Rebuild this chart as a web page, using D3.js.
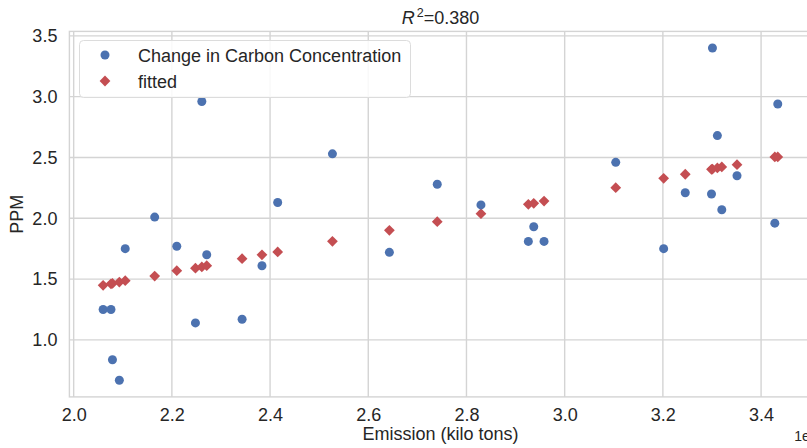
<!DOCTYPE html>
<html>
<head>
<meta charset="utf-8">
<script src="https://cdn.jsdelivr.net/npm/d3@7"></script>
<style>
  body { margin: 0; background: #fff; }
  text { font-family: "Liberation Sans", Arial, sans-serif; fill: #262626; }
</style>
</head>
<body>
<svg id="chart" width="807" height="448"></svg>
<script>
// emission in units of 1e7 kilo tons
const emission = [2.060, 2.076, 2.079, 2.093, 2.105, 2.165, 2.210, 2.248, 2.261, 2.271,
    2.343, 2.3835, 2.4155, 2.527, 2.643, 2.7405, 2.8295, 2.926, 2.937, 2.958,
    3.104, 3.2016, 3.2456, 3.299, 3.301, 3.311, 3.320, 3.351, 3.428, 3.434];
const carbonChange = [1.25, 1.25, 0.837, 0.668, 1.75, 2.01, 1.77, 1.14, 2.96, 1.70,
    1.17, 1.61, 2.13, 2.53, 1.72, 2.28, 2.11, 1.81, 1.93, 1.81,
    2.46, 1.75, 2.21, 2.20, 3.40, 2.68, 2.07, 2.35, 1.96, 2.94];
const fitted = [1.449, 1.461, 1.464, 1.476, 1.487, 1.525, 1.569, 1.590, 1.600, 1.610,
    1.668, 1.700, 1.723, 1.811, 1.901, 1.972, 2.038, 2.115, 2.123, 2.142,
    2.252, 2.329, 2.362, 2.403, 2.405, 2.414, 2.422, 2.441, 2.504, 2.504];
const xTicks = [2.0, 2.2, 2.4, 2.6, 2.8, 3.0, 3.2, 3.4];
const yTicks = [1.0, 1.5, 2.0, 2.5, 3.0, 3.5];
const seriesNames = ["Change in Carbon Concentration", "fitted"];

const blue = "#4c72b0", red = "#c44e52", gridColor = "#d4d4d4";

const svg = d3.select("#chart");
const margin = { left: 69.4, right: 811.5, top: 31.4, bottom: 396.9 };

// matplotlib style 5% padding around the data
function padded(values) {
    const [lo, hi] = d3.extent(values);
    const pad = (hi - lo) * 0.05;
    return [lo - pad, hi + pad];
}

const x = d3.scaleLinear()
    .domain(padded(emission))
    .range([margin.left, margin.right]);
const y = d3.scaleLinear()
    .domain(padded(carbonChange.concat(fitted)))
    .range([margin.bottom, margin.top]);

// grid
const grid = svg.append("g").attr("class", "grid");
grid.selectAll("line.gx")
    .data(xTicks)
    .enter().append("line")
    .attr("x1", d => x(d)).attr("x2", d => x(d))
    .attr("y1", margin.top).attr("y2", margin.bottom)
    .attr("stroke", gridColor).attr("stroke-width", 1.4);
grid.selectAll("line.gy")
    .data(yTicks)
    .enter().append("line")
    .attr("x1", margin.left).attr("x2", margin.right)
    .attr("y1", d => y(d)).attr("y2", d => y(d))
    .attr("stroke", gridColor).attr("stroke-width", 1.4);

// spines
svg.append("rect")
    .attr("x", margin.left).attr("y", margin.top)
    .attr("width", margin.right - margin.left)
    .attr("height", margin.bottom - margin.top)
    .attr("fill", "none")
    .attr("stroke", gridColor).attr("stroke-width", 1.4);

// axes (no tick marks, just labels)
const xAxis = svg.append("g")
    .attr("transform", `translate(0,${margin.bottom})`)
    .call(d3.axisBottom(x).tickValues(xTicks).tickFormat(d3.format(".1f")).tickSize(0).tickPadding(11.5));
const yAxis = svg.append("g")
    .attr("transform", `translate(${margin.left},0)`)
    .call(d3.axisLeft(y).tickValues(yTicks).tickFormat(d3.format(".1f")).tickSize(0).tickPadding(12));
[xAxis, yAxis].forEach(ax => {
    ax.select(".domain").remove();
    ax.selectAll("text")
        .attr("font-size", 18)
        .attr("font-family", "Liberation Sans, Arial, sans-serif")
        .attr("fill", "#262626");
});

// fitted diamonds first, observations on top
const diamond = d3.symbol().type(d3.symbolSquare).size(58);
svg.append("g")
    .selectAll("path")
    .data(emission)
    .enter().append("path")
    .attr("d", diamond)
    .attr("transform", (d, i) => `translate(${x(d)},${y(fitted[i])}) rotate(45)`)
    .attr("fill", red);

svg.append("g")
    .selectAll("circle")
    .data(emission)
    .enter().append("circle")
    .attr("cx", d => x(d))
    .attr("cy", (d, i) => y(carbonChange[i]))
    .attr("r", 4.5)
    .attr("fill", blue);

// legend
const legend = svg.append("g");
legend.append("rect")
    .attr("x", 79.5).attr("y", 40.5)
    .attr("width", 331).attr("height", 57)
    .attr("rx", 4)
    .attr("fill", "rgba(255,255,255,0.85)")
    .attr("stroke", "#dcdcdc");
legend.append("circle")
    .attr("cx", 105).attr("cy", 55).attr("r", 4.5).attr("fill", blue);
legend.append("path")
    .attr("d", diamond)
    .attr("transform", "translate(105,81) rotate(45)")
    .attr("fill", red);
legend.selectAll("text")
    .data(seriesNames)
    .enter().append("text")
    .attr("x", 138)
    .attr("y", (d, i) => 61.5 + i * 26)
    .attr("font-size", 18)
    .text(d => d);

// title
const title = svg.append("text")
    .attr("x", (margin.left + margin.right) / 2)
    .attr("y", 24)
    .attr("text-anchor", "middle")
    .attr("font-size", 18);
title.append("tspan").attr("font-style", "italic").text("R");
title.append("tspan").attr("font-size", 12.5).attr("dy", -7).attr("dx", 2).text("2");
title.append("tspan").attr("dy", 7).text("=0.380");

// axis labels
svg.append("text")
    .attr("x", (margin.left + margin.right) / 2)
    .attr("y", 440)
    .attr("text-anchor", "middle")
    .attr("font-size", 18)
    .text("Emission (kilo tons)");

svg.append("text")
    .attr("transform", `translate(23,${(margin.top + margin.bottom) / 2}) rotate(-90)`)
    .attr("text-anchor", "middle")
    .attr("font-size", 18)
    .text("PPM");

// offset text
svg.append("text")
    .attr("x", margin.right + 6)
    .attr("y", 441)
    .attr("text-anchor", "end")
    .attr("font-size", 14)
    .text("1e7");
</script>
</body>
</html>
